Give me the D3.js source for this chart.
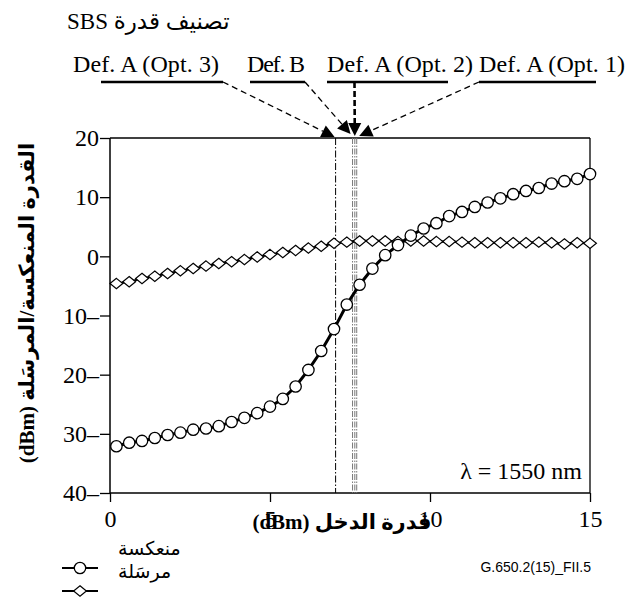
<!DOCTYPE html>
<html><head><meta charset="utf-8">
<script src="https://cdn.jsdelivr.net/npm/d3@7"></script>
<style>
body{margin:0;background:#fff;}
svg{display:block;}
</style></head>
<body>
<svg id="chart" width="625" height="598"></svg>
<script>
// ---- data ----
const xValues = [0, 0.2, 0.6, 1.0, 1.4, 1.8, 2.2, 2.6, 3.0, 3.4, 3.8, 4.2, 4.6, 5.0, 5.4, 5.8, 6.2, 6.6, 7.0, 7.4, 7.8,
  8.2, 8.6, 9.0, 9.4, 9.8, 10.2, 10.6, 11.0, 11.4, 11.8, 12.2, 12.6, 13.0, 13.4, 13.8, 14.2, 14.6, 15.0];
const reflected = [-32.2, -32.1, -31.5, -31.2, -30.7, -30.2, -29.8, -29.3, -29.1, -28.7, -28.0, -27.3, -26.5, -25.4, -24.1, -22.0,
  -19.2, -16.0, -12.3, -8.15, -4.8, -2.07, 0.2, 1.9, 3.5, 4.7, 5.6, 6.8, 7.5, 8.35, 9.1, 9.8, 10.5, 11.05, 11.55, 12.3, 12.7, 13.1, 13.9];
const transmitted = [-4.6, -4.6, -4.3, -3.75, -3.35, -2.9, -2.45, -2.05, -1.65, -1.2, -0.9, -0.55, -0.1, 0.3, 0.65, 1.0,
  1.4, 1.7, 2.2, 2.4, 2.6, 2.6, 2.6, 2.5, 2.6, 2.6, 2.5, 2.5, 2.4, 2.3, 2.3, 2.3, 2.3, 2.3, 2.4, 2.3, 2.1, 2.3, 2.2];
const xTicks = [0, 5, 10, 15];
const yTicks = [20, 10, 0, -10, -20, -30, -40];
const thresholdNames = ["Def. A (Opt. 3)", "Def. B", "Def. A (Opt. 2)", "Def. A (Opt. 1)"];
const thresholdValues = [7.05, 7.58, 7.65, 7.71];
const legendLabels = ["منعكسة", "مرسَلة"];
const titleArabic = "تصنيف قدرة";
const titleLatin = "SBS";
const xTitle = "(dBm) قدرة الدخل";
const yTitle = "(dBm) القدرة المنعكسة/المرسَلة";
const noteText = "λ = 1550 nm";
const figId = "G.650.2(15)_FII.5";

// ---- layout ----
const svg = d3.select("#chart");
const L = 110, R = 590, T = 138, B = 493;
const x = d3.scaleLinear().domain([0, 15]).range([L, R]);
const y = d3.scaleLinear().domain([-40, 20]).range([B, T]);
const serif = '"Liberation Serif","Times New Roman","DejaVu Sans",serif';

// title
svg.append("text").attr("x",67).attr("y",29).attr("font-family",serif)
  .attr("font-size",23).attr("direction","ltr").text(titleLatin + " " + titleArabic);

// frame
svg.append("line").attr("x1",L).attr("x2",R).attr("y1",T).attr("y2",T).attr("stroke","#000").attr("stroke-width",1.3);
svg.append("line").attr("x1",R).attr("x2",R).attr("y1",T).attr("y2",B).attr("stroke","#000").attr("stroke-width",1.3);

// axes
const xAxis = svg.append("g").attr("transform",`translate(0,${B})`)
  .call(d3.axisBottom(x).tickValues(xTicks).tickSize(9).tickPadding(8).tickSizeOuter(0));
const yAxis = svg.append("g").attr("transform",`translate(${L},0)`)
  .call(d3.axisLeft(y).tickValues(yTicks).tickSize(10).tickPadding(1).tickSizeOuter(0)
    .tickFormat(d => d < 0 ? Math.abs(d) + "–" : String(d)));
[xAxis, yAxis].forEach(g => {
  g.select(".domain").attr("stroke","#000").attr("stroke-width",1.5);
  g.selectAll(".tick line").attr("stroke","#000").attr("stroke-width",1.3);
  g.selectAll(".tick text").attr("font-family",serif).attr("font-size",24).attr("fill","#000");
});
yAxis.select(".domain").attr("d",`M0,${T}V${B+1}`);
xAxis.select(".domain").attr("d",`M${L},0H${R}`);

// threshold vertical lines
thresholdValues.forEach((v,i) => {
  svg.append("line").attr("x1",x(v)).attr("x2",x(v)).attr("y1",T).attr("y2",B)
    .attr("stroke", i===0 ? "#000" : "#777").attr("stroke-width", 1)
    .attr("stroke-dasharray", i===0 ? "7,2,1.5,2" : "6,1.5,1.5,1.5");
});

// series
const pts = xValues.map((xv,i)=>({x:xv, r:reflected[i], t:transmitted[i], i}));
const lineT = d3.line().x(d=>x(d.x)).y(d=>y(d.t));
const lineR = d3.line().x(d=>x(d.x)).y(d=>y(d.r));
svg.append("path").attr("d",lineT(pts)).attr("fill","none").attr("stroke","#000").attr("stroke-width",2.2);
const diamond = (cx,cy,w,h)=>`M${cx},${cy-h}L${cx+w},${cy}L${cx},${cy+h}L${cx-w},${cy}Z`;
svg.append("g").selectAll("path").data(pts.filter(d=>d.i>0)).join("path")
  .attr("d",d=>diamond(x(d.x),y(d.t),6.4,5.2)).attr("fill","#fff").attr("stroke","#000").attr("stroke-width",1.2);
svg.append("path").attr("d",lineR(pts)).attr("fill","none").attr("stroke","#000").attr("stroke-width",3);
svg.append("g").selectAll("circle").data(pts.filter(d=>d.i>0)).join("circle")
  .attr("cx",d=>x(d.x)).attr("cy",d=>y(d.r)).attr("r",5.7)
  .attr("fill","#fff").attr("stroke","#000").attr("stroke-width",1.3);

// annotation labels with underlines and arrows
const labelX = [73, 247, 327, 479];
const ulines = [[101,223],[250,305],[327,448],[479,596]];
const starts = [[223,82],[305,82],[354.5,82],[479,82]];
const tipOffsets = [-1, -2, 0, 2.5];
const tipY = [137, 134, 136, 136];
thresholdNames.forEach((name,i)=>{
  svg.append("text").attr("x",labelX[i]).attr("y",72).attr("font-family",serif).attr("font-size",24)
    .attr("textLength", i===1 ? 58 : 146).attr("lengthAdjust","spacing").text(name);
  svg.append("line").attr("x1",ulines[i][0]).attr("x2",ulines[i][1]).attr("y1",82).attr("y2",82)
    .attr("stroke","#000").attr("stroke-width",2.6);
  const tx = x(thresholdValues[i]) + tipOffsets[i], ty = tipY[i];
  const [sx,sy] = starts[i];
  const ang = Math.atan2(ty-sy, tx-sx);
  const len = 13, hw = 6.5;
  const bx = tx - len*Math.cos(ang), by = ty - len*Math.sin(ang);
  svg.append("line").attr("x1",sx).attr("y1",sy).attr("x2",bx).attr("y2",by)
    .attr("stroke","#000").attr("stroke-width", i===2 ? 2.6 : 1.3)
    .attr("stroke-dasharray", i===2 ? "6,3" : "6,4");
  const px = -Math.sin(ang), py = Math.cos(ang);
  svg.append("path").attr("d",`M${tx},${ty}L${bx+hw*px},${by+hw*py}L${bx-hw*px},${by-hw*py}Z`).attr("fill","#000");
});

// note
svg.append("text").attr("x",582).attr("y",479).attr("text-anchor","end")
  .attr("font-family",serif).attr("font-size",24).text(noteText);

// axis titles
svg.append("text").attr("x",342).attr("y",529).attr("text-anchor","middle")
  .attr("font-family",serif).attr("font-weight","bold").attr("font-size",21)
  .attr("direction","ltr").text(xTitle);
svg.append("text").attr("transform","translate(34,303) rotate(-90)").attr("text-anchor","middle")
  .attr("font-family",serif).attr("font-weight","bold").attr("font-size",21)
  .attr("direction","ltr").text(yTitle);

// legend
svg.append("text").attr("x",118).attr("y",555).attr("font-family",serif).attr("font-size",19).text(legendLabels[0]);
svg.append("text").attr("x",118).attr("y",578).attr("font-family",serif).attr("font-size",19).text(legendLabels[1]);
svg.append("line").attr("x1",62).attr("x2",98).attr("y1",568).attr("y2",568).attr("stroke","#000").attr("stroke-width",2.2);
svg.append("circle").attr("cx",80).attr("cy",568).attr("r",5.7).attr("fill","#fff").attr("stroke","#000").attr("stroke-width",1.3);
svg.append("line").attr("x1",62).attr("x2",98).attr("y1",591).attr("y2",591).attr("stroke","#000").attr("stroke-width",2);
svg.append("path").attr("d",diamond(80,591,6.4,5.2)).attr("fill","#fff").attr("stroke","#000").attr("stroke-width",1.2);

// figure id
svg.append("text").attr("x",591).attr("y",572).attr("text-anchor","end")
  .attr("font-family",'"Liberation Sans",Arial,sans-serif').attr("font-size",14).text(figId);
</script>
</body></html>
